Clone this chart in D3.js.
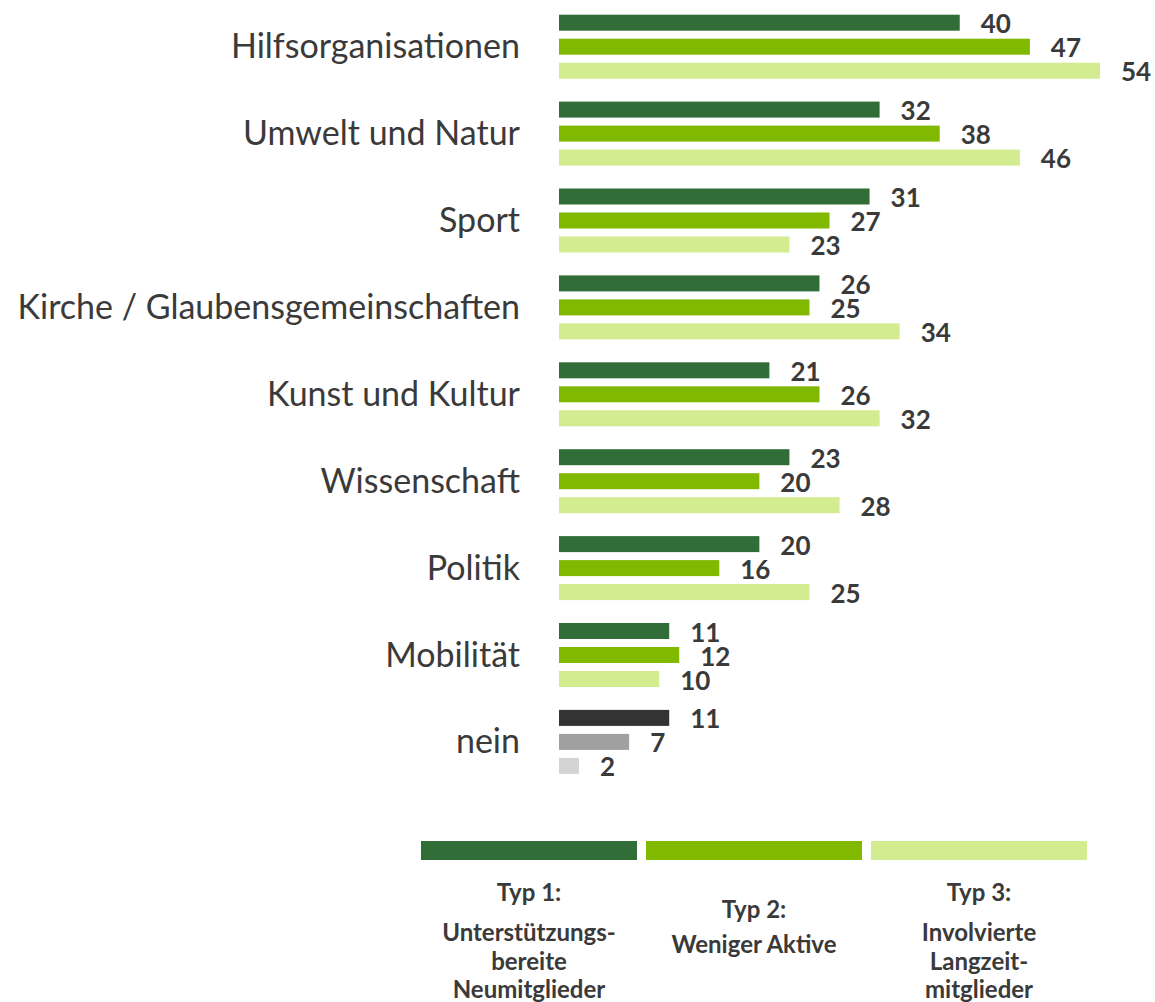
<!DOCTYPE html>
<html>
<head>
<meta charset="utf-8">
<script src="https://cdn.jsdelivr.net/npm/d3@7"></script>
<style>
  html, body { margin: 0; padding: 0; background: #fff; }
  svg { display: block; }
</style>
</head>
<body>
<svg id="chart" width="1155" height="1002"></svg>
<script>
// Engagement areas per member type (percent)
const categories = [
  "Hilfsorganisationen",
  "Umwelt und Natur",
  "Sport",
  "Kirche / Glaubensgemeinschaften",
  "Kunst und Kultur",
  "Wissenschaft",
  "Politik",
  "Mobilität",
  "nein"
];
const typ1 = [40, 32, 31, 26, 21, 23, 20, 11, 11];
const typ2 = [47, 38, 27, 25, 26, 20, 16, 12, 7];
const typ3 = [54, 46, 23, 34, 32, 28, 25, 10, 2];

const seriesNames = ["Typ 1", "Typ 2", "Typ 3"];
const seriesColors = ["#316e37", "#80b900", "#d2ec8f"];
const neinColors = ["#333333", "#a0a0a0", "#d4d4d4"];

const legendLines = [
  ["Typ 1:", "Unterstützungs-", "bereite", "Neumitglieder"],
  ["Typ 2:", "Weniger Aktive"],
  ["Typ 3:", "Involvierte", "Langzeit-", "mitglieder"]
];

const svg = d3.select("#chart");
const font = "Lato, 'Open Sans', sans-serif";
const textColor = "#3a3a3a";

const x = d3.scaleLinear().domain([0, 54]).range([559, 1100]);
const y = d3.scaleBand().domain(categories).range([14.7, 14.7 + 9 * 86.9]).padding(0);
const ySub = d3.scaleBand().domain([0, 1, 2]).range([0, 64]).paddingInner(1 / 3).paddingOuter(0);

const rows = categories.map((c, i) => ({
  cat: c,
  values: [typ1[i], typ2[i], typ3[i]]
}));

const g = svg.append("g");

// Category labels, right-aligned next to the bars
g.selectAll("text.cat")
  .data(rows)
  .join("text")
  .attr("class", "cat")
  .attr("x", 520)
  .attr("y", d => y(d.cat) + ySub(1) + ySub.bandwidth() / 2 + 11.5)
  .attr("text-anchor", "end")
  .attr("font-family", font)
  .attr("font-size", 34)
  .attr("fill", textColor)
  .text(d => d.cat);

const groups = g.selectAll("g.row")
  .data(rows)
  .join("g")
  .attr("class", "row")
  .attr("transform", d => `translate(0,${y(d.cat)})`);

const cells = groups.selectAll("g.cell")
  .data(d => d.values.map((v, k) => ({ v, k, cat: d.cat })))
  .join("g")
  .attr("class", "cell");

cells.append("rect")
  .attr("x", x(0))
  .attr("y", d => ySub(d.k))
  .attr("width", d => x(d.v) - x(0))
  .attr("height", ySub.bandwidth())
  .attr("fill", d => d.cat === "nein" ? neinColors[d.k] : seriesColors[d.k]);

cells.append("text")
  .attr("x", d => x(d.v) + 21)
  .attr("y", d => ySub(d.k) + ySub.bandwidth() / 2 + 10.5)
  .attr("font-family", font)
  .attr("font-weight", "bold")
  .attr("font-size", 26)
  .attr("fill", textColor)
  .text(d => d.v);

// Legend: colour bars with the type descriptions below
const legendX = d3.scaleBand().domain(seriesNames).range([421, 1087]).paddingInner(9 / 225).paddingOuter(0);

const leg = svg.append("g")
  .selectAll("g")
  .data(seriesNames)
  .join("g");

leg.append("rect")
  .attr("x", d => legendX(d))
  .attr("y", 841)
  .attr("width", legendX.bandwidth())
  .attr("height", 19)
  .attr("fill", (d, i) => seriesColors[i]);

const lineY = [[901, 941, 970, 998], [918, 953], [901, 941, 970, 998]];

leg.each(function (d, i) {
  d3.select(this).selectAll("text")
    .data(legendLines[i])
    .join("text")
    .attr("x", legendX(d) + legendX.bandwidth() / 2)
    .attr("y", (t, j) => lineY[i][j])
    .attr("text-anchor", "middle")
    .attr("font-family", font)
    .attr("font-weight", "bold")
    .attr("font-size", 24)
    .attr("fill", textColor)
    .text(t => t);
});
</script>
</body>
</html>
